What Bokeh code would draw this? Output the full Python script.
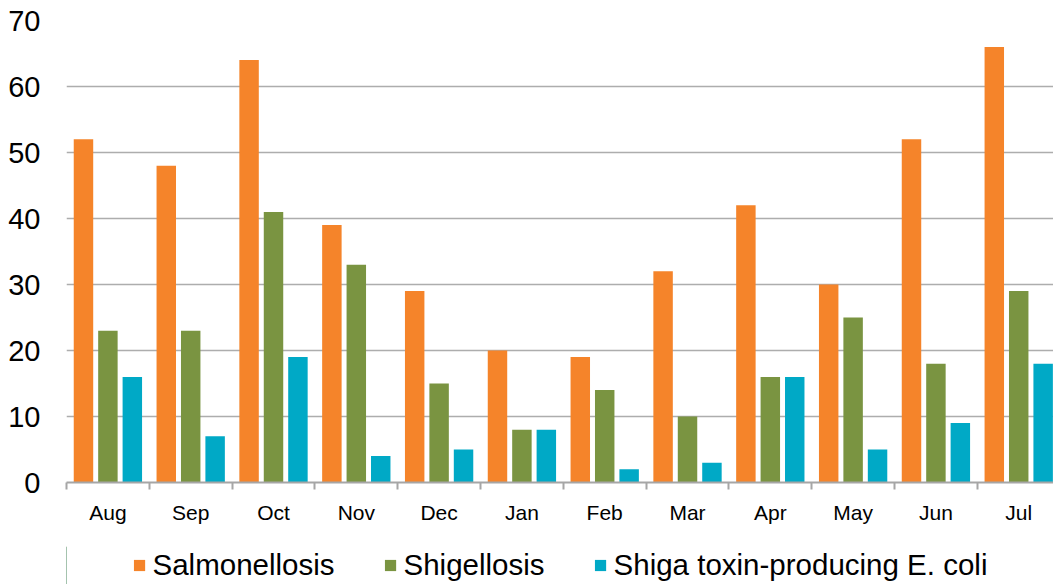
from bokeh.plotting import figure
from bokeh.layouts import column
from bokeh.models import Range1d, FixedTicker, Legend, LegendItem, ColumnDataSource
from bokeh.embed import file_html
from bokeh.resources import INLINE
import numpy as np

months = ["Aug", "Sep", "Oct", "Nov", "Dec", "Jan", "Feb", "Mar", "Apr", "May", "Jun", "Jul"]
salmonellosis = [52, 48, 64, 39, 29, 20, 19, 32, 42, 30, 52, 66]
shigellosis = [23, 23, 41, 33, 15, 8, 14, 10, 16, 25, 18, 29]
stec = [16, 7, 19, 4, 5, 8, 2, 3, 16, 5, 9, 18]

series_names = ["Salmonellosis", "Shigellosis", "Shiga toxin-producing E. coli"]
series_values = [salmonellosis, shigellosis, stec]
colors = ["#F5842A", "#7A9441", "#00A9C6"]

FONT = "Liberation Sans"

centers = np.arange(len(months)) + 0.5

p = figure(frame_width=987, frame_height=462, output_backend="svg", toolbar_location=None,
           x_range=Range1d(0, 11.92), y_range=Range1d(0, 70),
           min_border_left=66, min_border_right=0, min_border_top=20, min_border_bottom=64)
p.outline_line_color = None
p.background_fill_color = "white"
p.border_fill_color = "white"

offsets = [-0.295, 0.0, 0.295]
for name, vals, col, off in zip(series_names, series_values, colors, offsets):
    src = ColumnDataSource(dict(x=centers + off, top=vals))
    p.vbar(x="x", top="top", bottom=0, width=0.235, source=src,
           fill_color=col, line_color=None)

# axes
p.xgrid.grid_line_color = None
p.ygrid.grid_line_color = "#ADADAD"
p.ygrid.grid_line_width = 1.5
p.ygrid.ticker = FixedTicker(ticks=list(range(10, 71, 10)))

p.yaxis.ticker = FixedTicker(ticks=list(range(0, 71, 10)))
p.yaxis.axis_line_color = None
p.yaxis.major_tick_line_color = None
p.yaxis.minor_tick_line_color = None
p.yaxis.major_tick_out = 0
p.yaxis.minor_tick_out = 0
p.yaxis.major_label_standoff = 26
p.yaxis.major_label_text_font = FONT
p.yaxis.major_label_text_font_size = "29px"
p.yaxis.major_label_text_color = "black"

p.xaxis.ticker = FixedTicker(ticks=list(centers), minor_ticks=list(np.arange(len(months) + 1)))
p.xaxis.major_label_overrides = {float(c): m for c, m in zip(centers, months)}
p.xaxis.axis_line_color = "#A6A6A6"
p.xaxis.axis_line_width = 2
p.xaxis.major_tick_line_color = None
p.xaxis.minor_tick_line_color = "#A6A6A6"
p.xaxis.minor_tick_line_width = 2
p.xaxis.minor_tick_in = 0
p.xaxis.minor_tick_out = 7
p.xaxis.major_label_standoff = 11
p.xaxis.major_label_text_font = FONT
p.xaxis.major_label_text_font_size = "21px"
p.xaxis.major_label_text_color = "black"

# legend strip below the chart (its proxy bars sit outside the strip's visible range)
lg = figure(width=1053, height=38, output_backend="svg", toolbar_location=None,
            x_range=Range1d(0, 1), y_range=Range1d(0, 1),
            x_axis_location=None, y_axis_location=None,
            min_border_left=45, min_border_right=0, min_border_top=0, min_border_bottom=0)
lg.outline_line_color = None
lg.grid.visible = False
lg_renderers = []
for name, col in zip(series_names, colors):
    r = lg.vbar(x=[-100], top=[1], width=0.5, fill_color=col, line_color=None)
    lg_renderers.append(r)

legend = Legend(items=[LegendItem(label=n, renderers=[r]) for n, r in zip(series_names, lg_renderers)],
                orientation="horizontal", location="center")
legend.glyph_width = 14
legend.glyph_height = 14
legend.label_standoff = 7
legend.spacing = 48
legend.padding = 0
legend.margin = 0
legend.border_line_color = None
legend.background_fill_alpha = 0
legend.label_text_font = FONT
legend.label_text_font_size = "29.5px"
legend.label_text_color = "black"
lg.add_layout(legend, "center")

layout = column(p, lg)
open("out.html", "w").write(file_html(layout, INLINE))
